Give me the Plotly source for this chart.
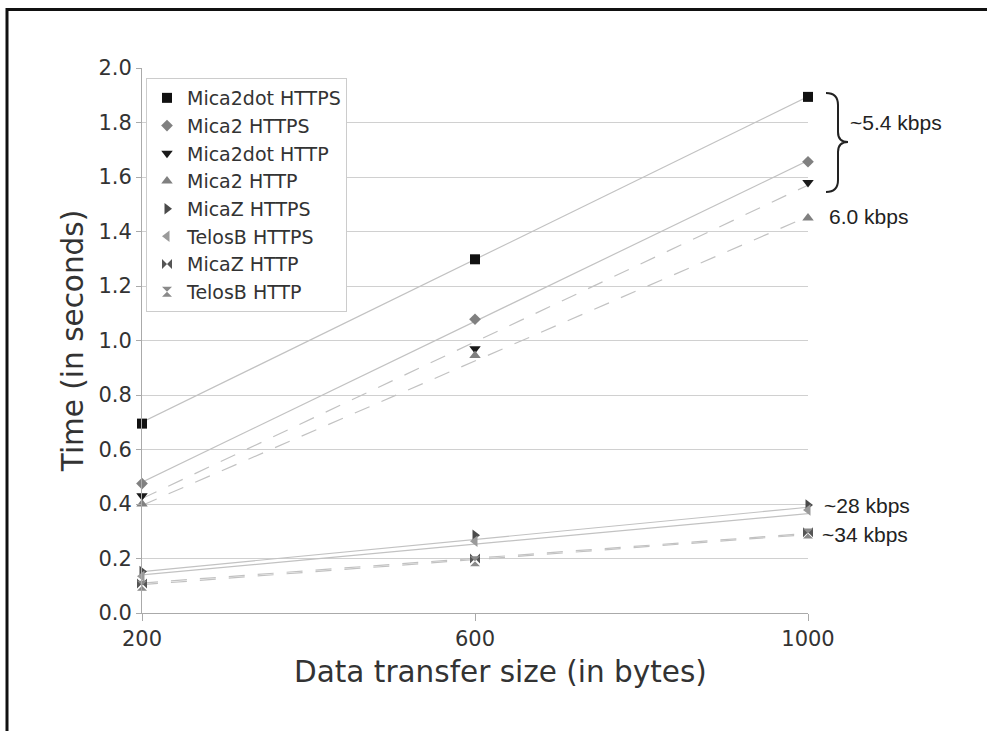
import plotly.graph_objects as go

# ---- data ----
sizes = [200, 600, 1000]
series_names = ["Mica2dot HTTPS", "Mica2 HTTPS", "Mica2dot HTTP", "Mica2 HTTP",
                "MicaZ HTTPS", "TelosB HTTPS", "MicaZ HTTP", "TelosB HTTP"]
mica2dot_https = [0.695, 1.298, 1.894]
mica2_https = [0.475, 1.078, 1.656]
mica2dot_http = [0.43, 0.97, 1.58]
mica2_http = [0.40, 0.945, 1.45]
micaz_https = [0.152, 0.285, 0.396]
telosb_https = [0.135, 0.263, 0.378]
micaz_http = [0.108, 0.200, 0.296]
telosb_http = [0.100, 0.190, 0.292]

# trend lines (values at 200 and 1000 bytes)
trend_x = [200, 1000]
trend_mica2dot_https = [0.70, 1.895]
trend_mica2_https = [0.48, 1.66]
trend_mica2dot_http = [0.42, 1.57]
trend_mica2_http = [0.395, 1.455]
trend_micaz_https = [0.152, 0.388]
trend_telosb_https = [0.140, 0.365]
trend_micaz_http = [0.110, 0.292]
trend_telosb_http = [0.104, 0.288]

rate_labels = ["~5.4 kbps", "6.0 kbps", "~28 kbps", "~34 kbps"]
x_title = "Data transfer size (in bytes)"
y_title = "Time (in seconds)"

values = [mica2dot_https, mica2_https, mica2dot_http, mica2_http,
          micaz_https, telosb_https, micaz_http, telosb_http]
trends = [trend_mica2dot_https, trend_mica2_https, trend_mica2dot_http, trend_mica2_http,
          trend_micaz_https, trend_telosb_https, trend_micaz_http, trend_telosb_http]

symbols = ["square", "diamond", "triangle-down", "triangle-up",
           "triangle-right", "triangle-left", "bowtie", "hourglass"]
colors = ["#111111", "#808080", "#1a1a1a", "#808080",
          "#4a4a4a", "#9a9a9a", "#555555", "#8a8a8a"]
msizes = [10, 9, 10, 10, 10, 10, 10, 10]
dashes = ["solid", "solid", "16px,13px", "16px,13px",
          "solid", "solid", "16px,13px", "16px,13px"]

fig = go.Figure()

for name, tr, dsh in zip(series_names, trends, dashes):
    fig.add_trace(go.Scatter(x=trend_x, y=tr, mode="lines", showlegend=False,
                             line=dict(color="#c2c2c2", width=1.2, dash=dsh),
                             hoverinfo="skip", cliponaxis=False))

for name, v, s, c, ms in zip(series_names, values, symbols, colors, msizes):
    fig.add_trace(go.Scatter(x=sizes, y=v, mode="markers", name=name,
                             marker=dict(symbol=s, color=c, size=ms, line=dict(width=0)),
                             cliponaxis=False))

# pixel -> paper helpers for decoration placement
L, R, T, B = 142, 808, 68, 613
def px(xp):
    return (xp - L) / (R - L)
def py(yp):
    return (B - yp) / (B - T)

shapes = []
# black frame (top and left edges)
shapes.append(dict(type="line", xref="paper", yref="paper", x0=px(7), x1=px(990),
                   y0=py(9.5), y1=py(9.5), line=dict(color="#111111", width=3)))
shapes.append(dict(type="line", xref="paper", yref="paper", x0=px(7), x1=px(7),
                   y0=py(8), y1=py(735), line=dict(color="#111111", width=3)))
# curly brace
pts = [(826, 93), (838, 93), (838, 105), (838, 132), (838, 142), (848, 142),
       (838, 142), (838, 152), (838, 180), (838, 192), (826, 192)]
def P(i):
    return f"{px(pts[i][0]):.5f},{py(pts[i][1]):.5f}"
path = (f"M {P(0)} Q {P(1)} {P(2)} L {P(3)} Q {P(4)} {P(5)} "
        f"Q {P(6)} {P(7)} L {P(8)} Q {P(9)} {P(10)}")
shapes.append(dict(type="path", xref="paper", yref="paper", path=path,
                   line=dict(color="#222222", width=2)))

ann_pos = [(848, 123), (827, 217), (822, 505), (820, 534)]
annotations = []
for txt, (ax_, ay_) in zip(rate_labels, ann_pos):
    annotations.append(dict(text=txt, xref="paper", yref="paper", x=px(ax_), y=py(ay_),
                            xanchor="left", yanchor="middle", showarrow=False,
                            font=dict(family="Liberation Sans, Arial", size=21, color="#222222")))
annotations.append(dict(text=x_title, xref="paper", yref="paper", x=px(500), y=py(672),
                        xanchor="center", yanchor="middle", showarrow=False,
                        font=dict(family="DejaVu Sans", size=29.5, color="#333333")))

fig.update_layout(
    width=987, height=731,
    margin=dict(l=L, r=987 - R, t=T, b=731 - B),
    paper_bgcolor="white", plot_bgcolor="white",
    font=dict(family="DejaVu Sans", color="#333333"),
    showlegend=True,
    legend=dict(x=px(146), y=py(78), xanchor="left", yanchor="top",
                bgcolor="white", bordercolor="#cccccc", borderwidth=1,
                font=dict(size=19, color="#333333"), itemwidth=30,
                tracegroupgap=0),
    shapes=shapes,
    annotations=annotations,
    xaxis=dict(range=[200, 1000], tickvals=sizes, ticktext=[str(s) for s in sizes],
               showgrid=False, zeroline=False, showline=True, linecolor="#aaaaaa",
               ticks="outside", ticklen=7, tickcolor="#aaaaaa",
               tickfont=dict(size=21, color="#333333")),
    yaxis=dict(range=[0, 2], dtick=0.2, tickformat=".1f",
               showgrid=True, gridcolor="#d0d0d0", gridwidth=1,
               zeroline=False, showline=True, linecolor="#aaaaaa",
               ticks="outside", ticklen=5, tickcolor="#aaaaaa",
               tickfont=dict(size=21, color="#333333"),
               title=dict(text=y_title, font=dict(size=29.5, color="#333333"),
                          standoff=6)),
)

fig.write_html("out.html")
